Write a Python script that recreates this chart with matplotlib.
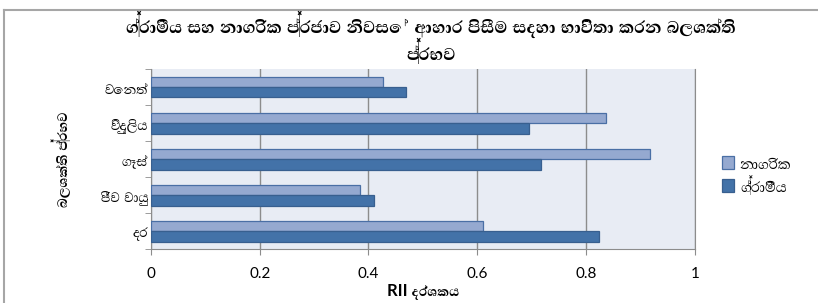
import matplotlib
matplotlib.use("Agg")
import matplotlib.pyplot as plt
import numpy as np
from matplotlib import font_manager
from matplotlib.ft2font import FT2Font
from matplotlib.lines import Line2D

# data (top to bottom)
sources = ["වෙනත්", "විදුලිය", "ගෑස්", "ජීව වායු", "දර"]
urban = [0.426, 0.837, 0.918, 0.385, 0.610]
rural = [0.469, 0.695, 0.718, 0.410, 0.824]
series_names = ["නාගරික", "ග්‍රාමීය"]
xticks = [0, 0.2, 0.4, 0.6, 0.8, 1]
title = "ග්‍රාමීය සහ නාගරික ප්‍රජාව නිවසේ ආහාර පිසීම සදහා භාවිතා කරන බලශක්ති\nප්‍රභව"
xlabel = "RII දර්ශකය"
ylabel = "බලශක්ති ප්‍රභව"


# look for installed fonts that have Sinhala glyphs, prefer a non-mono one
def find_sinhala_font():
    found = []
    for fe in font_manager.fontManager.ttflist:
        try:
            if 0x0DC3 in FT2Font(fe.fname).get_charmap():
                found.append(fe.name)
        except Exception:
            pass
    found.sort(key=lambda n: ("mono" in n.lower(), n))
    return found[0] if found else None


fams = ["Lato", "DejaVu Sans"]
sin = find_sinhala_font()
if sin:
    fams.append(sin)
plt.rcParams["font.family"] = fams

fig = plt.figure(figsize=(8.18, 3.03), dpi=100)
ax = fig.add_axes([0.1846, 0.1772, 0.6647, 0.5951])
ax.set_facecolor("#E8ECF4")

y = np.arange(len(sources))
h = 0.29
ax.barh(y - h / 2, urban, h, color="#95A9D0", edgecolor="#4A6FA5", linewidth=0.9,
        label=series_names[0], zorder=3)
ax.barh(y + h / 2, rural, h, color="#4372A8", edgecolor="#385F8F", linewidth=0.9,
        label=series_names[1], zorder=3)

ax.set_xlim(0, 1)
ax.set_ylim(len(sources) - 0.5, -0.5)
ax.set_xticks(xticks, [f"{t:g}" for t in xticks], fontsize=11)
ax.set_yticks(y, sources, fontsize=12)
ax.set_yticks(np.arange(len(sources) + 1) - 0.5, minor=True)
ax.tick_params(axis="y", which="major", length=0, pad=2)
ax.tick_params(axis="y", which="minor", length=4, color="#8C8C8C", direction="out")
ax.tick_params(axis="x", length=4, color="#8C8C8C", pad=9)
ax.xaxis.grid(True, color="#8C8C8C", linewidth=1, zorder=1)

for s in ["left", "bottom", "right"]:
    ax.spines[s].set_color("#8C8C8C")
ax.spines["top"].set_visible(False)

ax.set_xlabel(xlabel, fontsize=12, fontweight="bold", labelpad=1)
ax.set_ylabel(ylabel, fontsize=12, fontweight="bold")
ax.yaxis.set_label_coords(-0.148, 0.5)
fig.suptitle(title, x=0.527, y=0.965, fontsize=15.5, fontweight="bold", linespacing=1.0)

leg = ax.legend(loc="center left", bbox_to_anchor=(1.02, 0.41), frameon=False,
                fontsize=13, handlelength=0.7, handleheight=0.7, handletextpad=0.3,
                labelspacing=0.2)

# outer chart frame (top and left edges visible)
fig.add_artist(Line2D([0.0043, 1], [0.968, 0.968], color="#A6A6A6", linewidth=1.5))
fig.add_artist(Line2D([0.0043, 0.0043], [0, 0.968], color="#A6A6A6", linewidth=1.5))

fig.savefig("out.png", dpi=100)
